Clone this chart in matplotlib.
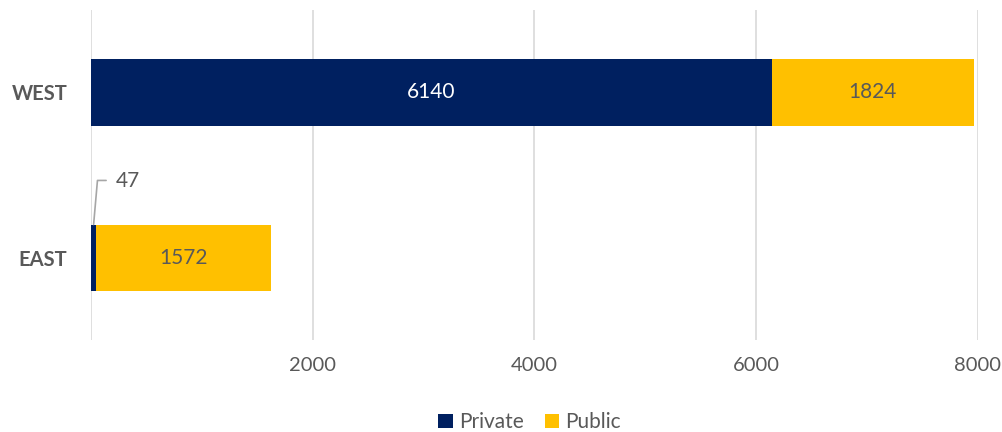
import matplotlib.pyplot as plt
import numpy as np

# данные
regions = ['EAST', 'WEST']
private = [47, 6140]
public = [1572, 1824]
x_ticks = [2000, 4000, 6000, 8000]

navy = '#002060'
gold = '#FFC000'
grey_text = '#595959'

plt.rcParams['font.family'] = ['Lato', 'DejaVu Sans']

fig = plt.figure(figsize=(10.03, 4.32), dpi=100)
ax = fig.add_axes([91 / 1003, 92 / 432, 887 / 1003, 330 / 432])

y = np.arange(len(regions))
b1 = ax.barh(y, private, height=0.4, color=navy, label='Private', zorder=3)
b2 = ax.barh(y, public, left=private, height=0.4, color=gold, label='Public', zorder=3)

# подписи внутри столбцов
for i in range(len(regions)):
    if private[i] > 500:
        ax.text(private[i] / 2, y[i], str(private[i]), ha='center', va='center',
                color='white', fontsize=15, zorder=4)
    ax.text(private[i] + public[i] / 2, y[i], str(public[i]), ha='center', va='center',
            color=grey_text, fontsize=15, zorder=4)

# маленькое значение выносим наружу с выноской
ax.annotate(str(private[0]), xy=(private[0] / 2, y[0] + 0.2), xytext=(16, 31),
            textcoords='offset points', ha='left', va='center', color=grey_text,
            fontsize=15,
            arrowprops=dict(arrowstyle='-', color='#a6a6a6', lw=1.2,
                            shrinkA=5, shrinkB=0,
                            connectionstyle='angle,angleA=180,angleB=85,rad=0',
                            relpos=(0, 0.55)))

ax.set_xlim(0, 8000)
ax.set_ylim(-0.5, 1.5)
ax.set_xticks(x_ticks)
ax.set_xticklabels([str(t) for t in x_ticks], color=grey_text, fontsize=14.5)
ax.set_yticks(y)
ax.set_yticklabels(regions, fontweight='bold', color=grey_text, fontsize=14.5)
ax.tick_params(length=0)
ax.tick_params(axis='x', pad=12)
ax.tick_params(axis='y', pad=17)

ax.grid(axis='x', color='#d9d9d9', lw=1.2, zorder=0)
ax.axvline(0, color='#d9d9d9', lw=1.2, zorder=1)
for s in ax.spines.values():
    s.set_visible(False)

fig.legend(handles=[b1, b2], loc='center', bbox_to_anchor=(0.528, 0.022), ncol=2,
           frameon=False, fontsize=15, handlelength=0.7, handleheight=0.7,
           handletextpad=0.3, columnspacing=1.0, labelcolor=grey_text,
           borderpad=0, borderaxespad=0)

fig.savefig('out.png', dpi=100)
